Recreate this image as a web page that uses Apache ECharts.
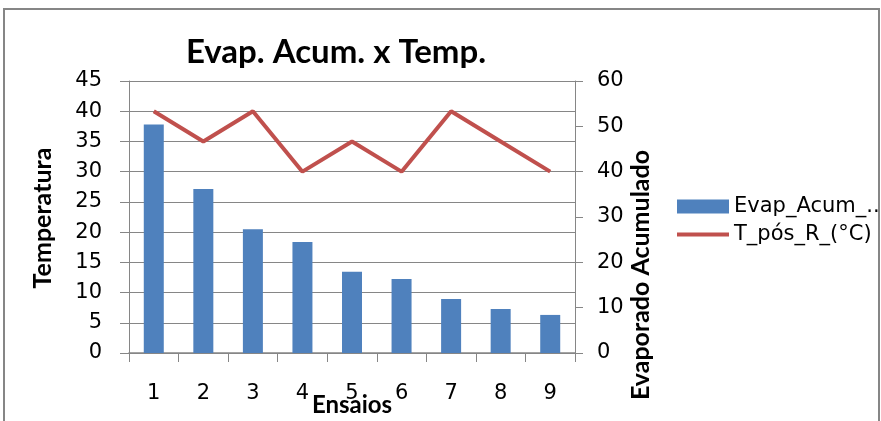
<!DOCTYPE html>
<html>
<head>
<meta charset="utf-8">
<script src="https://cdn.jsdelivr.net/npm/echarts@6/dist/echarts.min.js"></script>
<style>
html,body{margin:0;padding:0;background:#fff;}
#chart{width:881px;height:421px;}
</style>
</head>
<body>
<div id="chart"></div>
<script>
const categories = ['1','2','3','4','5','6','7','8','9'];
const evapAcum = [50.4, 36.2, 27.3, 24.5, 17.9, 16.3, 11.9, 9.7, 8.4];
const tempPosR = [40, 35, 40, 30, 35, 30, 40, 35, 30];
const leftTicks = {min: 0, max: 45, interval: 5};
const rightTicks = {min: 0, max: 60, interval: 10};

const BOLD = 'Lato, "Open Sans", sans-serif';
const REG = '"DejaVu Sans", sans-serif';
const chart = echarts.init(document.getElementById('chart'), null, {renderer: 'canvas'});
chart.setOption({
  animation: false,
  backgroundColor: '#fff',
  title: {
    text: 'Evap. Acum. x Temp.',
    left: 331, top: 31, textAlign: 'center',
    textStyle: {fontFamily: BOLD, fontWeight: 'bold', fontSize: 33, color: '#000'}
  },
  legend: {
    left: 670, top: 191, orient: 'vertical', itemGap: 7,
    itemWidth: 52, itemHeight: 14,
    textStyle: {fontFamily: REG, fontSize: 21, color: '#000'},
    data: [
      {name: 'Evap_Acum_..', icon: 'rect'},
      {name: 'T_pós_R_(°C)', itemStyle: {opacity: 0}, lineStyle: {width: 4, color: '#C0504D'}}
    ]
  },
  grid: {left: 129, right: 306, top: 81, bottom: 68, containLabel: false, outerBoundsMode: 'none'},
  xAxis: {
    type: 'category', data: categories,
    name: 'Ensaios', nameLocation: 'middle', nameGap: 40, nameMoveOverlap: false,
    nameTextStyle: {fontFamily: BOLD, fontWeight: 'bold', fontSize: 24, color: '#000'},
    axisLine: {lineStyle: {color: '#868686', width: 1.5}},
    axisTick: {show: true, alignWithLabel: false, length: 9, lineStyle: {color: '#868686'}},
    axisLabel: {margin: 30, fontFamily: REG, fontSize: 21, color: '#000'}
  },
  yAxis: [
    {
      type: 'value', min: leftTicks.min, max: leftTicks.max, interval: leftTicks.interval,
      axisLine: {show: true, lineStyle: {color: '#868686'}},
      axisTick: {show: true, length: 9, lineStyle: {color: '#868686'}},
      axisLabel: {margin: 27, fontFamily: REG, fontSize: 21, color: '#000'},
      splitLine: {show: true, lineStyle: {color: '#868686', width: 1}}
    },
    {
      type: 'value', min: rightTicks.min, max: rightTicks.max, interval: rightTicks.interval,
      position: 'right',
      axisLine: {show: true, lineStyle: {color: '#868686'}},
      axisTick: {show: true, length: 8, lineStyle: {color: '#868686'}},
      axisLabel: {margin: 22, fontFamily: REG, fontSize: 21, color: '#000'},
      splitLine: {show: false}
    }
  ],
  graphic: [
    {type: 'rect', shape: {x: 4, y: 9, width: 875, height: 430}, style: {fill: 'none', stroke: '#868686', lineWidth: 2}, silent: true, z: -1},
    {type: 'text', x: 43, y: 218, rotation: Math.PI / 2,
     style: {text: 'Temperatura', fontFamily: BOLD, fontWeight: 'bold', fontSize: 25, fill: '#000', textAlign: 'center', textVerticalAlign: 'middle'}},
    {type: 'text', x: 641, y: 275, rotation: Math.PI / 2,
     style: {text: 'Evaporado Acumulado', fontFamily: BOLD, fontWeight: 'bold', fontSize: 25, fill: '#000', textAlign: 'center', textVerticalAlign: 'middle'}}
  ],
  series: [
    {
      name: 'Evap_Acum_..', type: 'bar', yAxisIndex: 1, data: evapAcum,
      barWidth: 20, itemStyle: {color: '#4F81BD'}, z: 2
    },
    {
      name: 'T_pós_R_(°C)', type: 'line', yAxisIndex: 0, data: tempPosR,
      symbol: 'none', lineStyle: {color: '#C0504D', width: 4}, itemStyle: {color: '#C0504D'}, z: 3
    }
  ]
});
</script>
</body>
</html>
